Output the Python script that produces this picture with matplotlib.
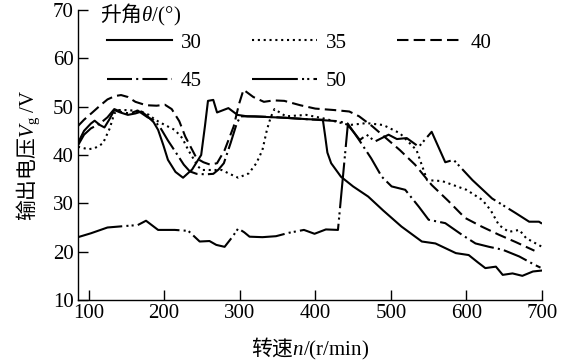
import matplotlib
matplotlib.use("Agg")
import matplotlib.pyplot as plt

plt.rcParams["font.family"] = ["Liberation Serif", "Noto Sans CJK SC"]
plt.rcParams["font.size"] = 15
# mathtext: rm -> CJK font, sf -> serif text, it -> serif italic
plt.rcParams["mathtext.fontset"] = "custom"
plt.rcParams["mathtext.rm"] = "Noto Sans CJK SC"
plt.rcParams["mathtext.sf"] = "Liberation Serif"
plt.rcParams["mathtext.it"] = "Liberation Serif:italic"

# 升角 30
x30 = [86, 94, 103, 108, 115, 121, 128, 134, 142, 152, 162, 170, 178, 186, 192, 199, 205, 215, 225,
       237, 249, 254, 258, 265, 270, 285, 297, 310, 330, 360, 390, 410, 413, 416, 421, 434, 450, 470,
       490, 514, 541, 559, 586, 603, 615, 625, 639, 648, 661, 674, 688, 700]
y30 = [42.5, 45.0, 46.5, 47.1, 46.2, 45.7, 47.5, 49.3, 48.8, 48.3, 48.6, 49.0, 48.0, 46.8, 45.2, 42.0,
       39.0, 36.5, 35.3, 37.0, 40.0, 46.0, 51.2, 51.4, 48.8, 49.7, 48.3, 48.0, 47.9, 47.7, 47.4, 47.3,
       44.0, 40.5, 38.3, 35.5, 33.5, 31.4, 28.5, 25.2, 22.1, 21.7, 19.7, 19.3, 17.8, 16.6, 16.9, 15.2,
       15.5, 15.0, 15.9, 16.1]

# 升角 35
x35 = [86, 94, 100, 108, 119, 128, 134, 140, 148, 160, 169, 180, 188, 201, 214, 224, 232, 245, 250,
       262, 276, 288, 298, 312, 322, 330, 336, 341, 346, 361, 388, 410, 445, 468, 490, 512, 534, 548,
       568, 600, 621, 632, 643, 656, 670, 679, 700]
y35 = [41.7, 41.4, 41.2, 41.4, 42.4, 45.5, 48.6, 49.3, 49.3, 49.2, 49.0, 48.3, 47.3, 46.2, 45.2, 43.5,
       41.0, 37.6, 36.9, 36.9, 36.9, 36.0, 35.3, 36.2, 38.3, 41.0, 45.2, 47.8, 49.5, 48.0, 48.3, 47.6,
       46.2, 46.6, 46.2, 44.5, 41.0, 34.8, 34.6, 32.8, 30.7, 28.6, 25.5, 24.1, 24.5, 22.8, 21.0]

# 升角 40
x40 = [86, 94, 105, 115, 125, 135, 143, 152, 162, 176, 190, 201, 210, 220, 228, 243, 252, 261, 270,
       280, 292, 299, 305, 318, 332, 345, 359, 380, 400, 425, 445, 458, 475, 495, 512, 532, 554, 576,
       598, 620, 643, 665, 690]
y40 = [46.0, 47.3, 48.8, 50.2, 51.5, 52.2, 52.4, 52.0, 51.0, 50.3, 50.2, 50.4, 49.5, 47.0, 43.8, 39.3,
       38.5, 38.0, 38.3, 41.0, 45.9, 50.5, 53.5, 52.0, 51.0, 51.3, 51.2, 50.3, 49.6, 49.3, 49.0, 48.0,
       46.0, 43.3, 41.0, 38.0, 33.8, 30.5, 27.0, 25.2, 23.5, 22.0, 20.2]

# 升角 45
x45 = [86, 94, 103, 115, 125, 134, 145, 155, 165, 178, 186, 194, 205, 216, 226, 234, 243, 255, 265,
       272, 279, 288, 296, 301, 320, 350, 380, 410, 430, 443, 458, 474, 488, 501, 519, 537, 550, 572,
       594, 612, 630, 648, 670, 690, 698]
y45 = [42.0, 44.2, 45.5, 46.5, 47.8, 49.5, 48.8, 48.6, 49.2, 47.8, 47.2, 45.9, 43.0, 40.4, 38.0, 36.6,
       36.1, 36.0, 36.1, 37.0, 38.3, 42.5, 46.5, 48.0, 48.0, 47.8, 47.5, 47.2, 47.0, 46.5, 43.1, 39.3,
       35.5, 33.5, 32.8, 29.3, 26.6, 25.9, 23.5, 21.7, 21.0, 20.4, 19.0, 17.3, 16.7]

# 升角 50
x50 = [86, 103, 125, 148, 165, 176, 192, 214, 232, 247, 260, 269, 280, 290, 298, 306, 313, 330, 348,
       365, 385, 399, 414, 430, 443, 452, 459, 468, 479, 497, 508, 521, 537, 554, 572, 583, 608, 634,
       665, 683, 696, 700]
y50 = [23.0, 23.8, 25.0, 25.3, 25.5, 26.4, 24.5, 24.5, 24.3, 22.1, 22.2, 21.4, 21.0, 23.0, 24.8, 24.0,
       23.1, 23.0, 23.2, 23.9, 24.5, 23.7, 24.6, 24.5, 46.2, 44.5, 43.1, 44.2, 42.8, 44.2, 43.3, 43.5,
       41.7, 44.8, 38.5, 39.0, 34.8, 31.0, 28.0, 26.2, 26.2, 25.8]

fig = plt.figure(figsize=(5.61, 3.64), dpi=100)
ax = fig.add_axes([78 / 561, 1 - 300 / 364, 464 / 561, 290 / 364])

lw = 1.5
l30, = ax.plot(x30, y30, color="black", lw=lw, ls="-", label="30")
l35, = ax.plot(x35, y35, color="black", lw=lw, ls=(0, (1, 1.8)), label="35")
l40, = ax.plot(x40, y40, color="black", lw=lw, ls=(0, (5.5, 2.5)), label="40")
l45, = ax.plot(x45, y45, color="black", lw=lw, ls=(0, (12, 2, 1, 2)), label="45")
l50, = ax.plot(x50, y50, color="black", lw=lw, ls=(0, (22, 2, 1, 1.5, 1, 2)), label="50")

ax.set_xlim(86, 700)
ax.set_ylim(10, 70)
ax.set_xticks([100, 200, 300, 400, 500, 600, 700])
ax.set_yticks([10, 20, 30, 40, 50, 60, 70])
ax.tick_params(direction="in", length=7, width=1, pad=3)
ax.spines["top"].set_visible(False)
ax.spines["right"].set_visible(False)
for s in ["left", "bottom"]:
    ax.spines[s].set_linewidth(1)

ax.set_xlabel(r"$\mathrm{转速}n\mathsf{/(r/min)}$", labelpad=9)
ax.set_ylabel(r"$\mathrm{输出电压}V_{\mathsf{g}}\mathsf{\ /V}$", labelpad=8)

# 图例标题
fig.text(100 / 561, 1 - 15 / 364, r"$\mathrm{升角}\theta\mathsf{/(°)}$", ha="left", va="center")

leg = ax.legend(handles=[l30, l45, l35, l50, l40], ncol=3, frameon=False,
                loc="upper left",
                bbox_to_anchor=(107 / 561, 1 - 33 / 364), bbox_transform=fig.transFigure,
                handlelength=3.1, handletextpad=0.45, columnspacing=2.4,
                labelspacing=0.9, borderpad=0, borderaxespad=0, fontsize=15)

fig.savefig("out.png", dpi=100)
